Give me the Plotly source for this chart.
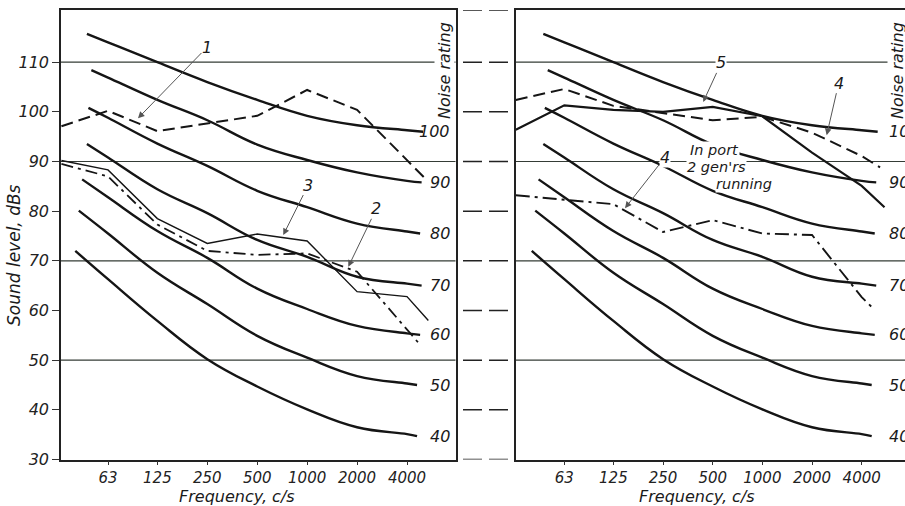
import math
import plotly.graph_objects as go

# ---------------- data ----------------
band_freqs = [63, 125, 250, 500, 1000, 2000, 4000]
band_labels = ["63", "125", "250", "500", "1000", "2000", "4000"]
grid_freqs = [125, 500, 2000]
level_ticks = [30, 40, 50, 60, 70, 80, 90, 100, 110]
grid_levels = [50, 70, 90, 110]
divider_levels = [30, 40, 50, 60, 70, 80, 90, 100, 110, 120.5]

# Noise-rating curves: first point, octave bands 63..4000, last point
nr_ratings = [100, 90, 80, 70, 60, 50, 40]
nr_start_freq = [47, 50, 48, 47, 44, 42, 40]
nr_end_freq = [5000, 4900, 4800, 4900, 4800, 4600, 4600]
nr_100 = [115.7, 114.0, 110.0, 106.0, 102.4, 99.2, 97.3, 96.3, 96.0]
nr_90 = [108.4, 106.9, 102.4, 98.3, 93.4, 90.3, 87.8, 86.1, 85.8]
nr_80 = [100.8, 98.8, 93.6, 89.1, 84.1, 80.8, 77.5, 75.9, 75.5]
nr_70 = [93.5, 90.8, 84.4, 79.6, 74.2, 70.8, 66.8, 65.4, 65.0]
nr_60 = [86.4, 82.8, 76.0, 70.6, 64.4, 60.3, 56.9, 55.4, 55.1]
nr_50 = [80.1, 75.5, 67.6, 61.3, 54.9, 50.5, 46.8, 45.3, 45.0]
nr_40 = [72.0, 66.3, 57.9, 50.2, 44.7, 40.1, 36.5, 35.1, 34.7]
nr_levels = [nr_100, nr_90, nr_80, nr_70, nr_60, nr_50, nr_40]

# measured spectra, left panel
c1_freqs = [33, 63, 125, 250, 500, 1000, 2000, 5250]
c1_levels = [97.1, 100.2, 96.1, 97.6, 99.2, 104.4, 100.4, 86.3]
c2_freqs = [33, 63, 125, 250, 500, 1000, 2000, 4800]
c2_levels = [89.5, 87.0, 77.3, 72.0, 71.2, 71.5, 67.8, 53.1]
c3_freqs = [33, 63, 125, 250, 500, 1000, 2000, 4000, 5380]
c3_levels = [90.2, 88.3, 78.5, 73.5, 75.4, 74.0, 63.8, 62.8, 58.0]

# measured spectra, right panel
c5_freqs = [32, 63, 125, 250, 500, 1000, 2000, 4000, 5500]
c5_levels = [96.4, 101.3, 100.4, 100.0, 101.0, 99.1, 91.8, 85.1, 80.8]
c4_freqs = [32, 63, 125, 250, 500, 1000, 2000, 4000, 5170]
c4_levels = [102.4, 104.6, 101.2, 99.8, 98.3, 99.0, 95.8, 91.1, 88.8]
c4p_freqs = [32, 63, 125, 250, 500, 1000, 2000, 4000, 4800]
c4p_levels = [83.2, 82.3, 81.4, 75.8, 78.2, 75.5, 75.2, 62.7, 60.1]

# callouts: (label, panel, head freq, head level, text dx px, text dy px)
callouts = [
    ("1", 1, 95.5, 98.7, 69, -71),
    ("3", 1, 718, 75.2, 25, -50),
    ("2", 1, 1771, 68.8, 28, -58),
    ("5", 2, 438, 102.0, 18, -39),
    ("4", 2, 2454, 95.3, 12, -52),
    ("4", 2, 147, 80.6, 40, -51),
]

# ---------------- style ----------------
W, H = 905, 506
INK = "#151515"
GRID = "#353c36"
FONT = "DejaVu Sans"

def px_x(p):
    return p / W

def px_y(p):
    return 1 - p / H

L_DOM = [px_x(61), px_x(455.5)]
R_DOM = [px_x(515.7), 1.0]
Y_DOM = [px_y(459.5), px_y(10)]
L_RANGE = [1.5159, 3.8945]
R_RANGE = [1.5047, 3.8646]
Y_RANGE = [30, 120.5]

fig = go.Figure()

def add_line(x, y, panel, width, dash="solid", spline=False):
    xa = "x" if panel == 1 else "x2"
    ya = "y" if panel == 1 else "y2"
    fig.add_trace(go.Scatter(
        x=x, y=y, mode="lines", xaxis=xa, yaxis=ya,
        line=dict(color=INK, width=width, dash=dash,
                  shape="spline" if spline else "linear", smoothing=1.2),
        hoverinfo="skip", showlegend=False))

for panel in (1, 2):
    for sf, ef, lv in zip(nr_start_freq, nr_end_freq, nr_levels):
        add_line([sf] + band_freqs + [ef], lv, panel, 2.4, spline=True)

add_line(c1_freqs, c1_levels, 1, 2.0, dash="12px,6px")
add_line(c2_freqs, c2_levels, 1, 1.8, dash="12px,5px,3px,5px")
add_line(c3_freqs, c3_levels, 1, 1.4)
add_line(c5_freqs, c5_levels, 2, 2.2)
add_line(c4_freqs, c4_levels, 2, 2.0, dash="12px,6px")
add_line(c4p_freqs, c4p_levels, 2, 1.9, dash="14px,5px,3px,5px")

ytickfont = dict(family=FONT, size=16, color="#222", style="italic")
xtickfont = dict(family=FONT, size=15, color="#222", style="italic")
xcommon = dict(type="log", tickvals=band_freqs, ticktext=band_labels,
               ticks="outside", ticklen=4, tickwidth=1.2, tickcolor="#333",
               showgrid=False, zeroline=False, showline=True, linecolor="#222",
               linewidth=1.6, mirror=True, tickfont=xtickfont, fixedrange=True)
fig.update_layout(
    width=W, height=H, margin=dict(l=0, r=0, t=0, b=0, autoexpand=False),
    paper_bgcolor="white", plot_bgcolor="white",
    xaxis=dict(domain=L_DOM, range=L_RANGE, anchor="y", **xcommon),
    xaxis2=dict(domain=R_DOM, range=R_RANGE, anchor="y2", **xcommon),
    yaxis=dict(domain=Y_DOM, range=Y_RANGE, anchor="x", tickvals=level_ticks,
               ticks="outside", ticklen=7, tickwidth=1.2, tickcolor="#333",
               showgrid=False, zeroline=False, showline=True, linecolor="#222",
               linewidth=1.6, mirror=True, tickfont=ytickfont, fixedrange=True),
    yaxis2=dict(domain=Y_DOM, range=Y_RANGE, anchor="x2", showticklabels=False,
                ticks="", showgrid=False, zeroline=False, showline=True,
                linecolor="#222", linewidth=1.6, mirror=False, fixedrange=True),
)

shapes = []
for xa, ya in (("x", "y"), ("x2", "y2")):
    for lv in grid_levels:
        shapes.append(dict(type="line", xref=xa + " domain", yref=ya, x0=0, x1=1,
                           y0=lv, y1=lv, line=dict(color=GRID, width=1.2), layer="below"))
    for f in grid_freqs:
        shapes.append(dict(type="line", xref=xa, yref=ya + " domain",
                           x0=math.log10(f), x1=math.log10(f), y0=0, y1=1,
                           line=dict(color=GRID, width=1.2), layer="below"))
for lv in divider_levels:
    shapes.append(dict(type="line", xref="paper", yref="y", x0=px_x(463), x1=px_x(510),
                       y0=lv, y1=lv, line=dict(color="#222", width=1.5, dash="19px,7px")))
fig.update_layout(shapes=shapes)

ann = []
lab_font = dict(family=FONT, size=16, color="#1a1a1a", style="italic")
note_font = dict(family=FONT, size=14.5, color="#1a1a1a", style="italic")
for rating, ef, lv in zip(nr_ratings, nr_end_freq, nr_levels):
    ann.append(dict(text=str(rating), xref="paper", yref="y", x=px_x(452), y=lv[-1],
                    xanchor="right", yanchor="middle", showarrow=False, font=lab_font))
    ann.append(dict(text=str(rating), xref="paper", yref="y2", x=px_x(887), y=lv[-1],
                    xanchor="left", yanchor="middle", showarrow=False, font=lab_font))

for lab, panel, f, lv, dx, dy in callouts:
    ann.append(dict(text=lab, xref="x" if panel == 1 else "x2",
                    yref="y" if panel == 1 else "y2",
                    x=math.log10(f), y=lv, ax=dx, ay=dy, showarrow=True,
                    arrowhead=2, arrowsize=1.3, arrowwidth=1, arrowcolor="#555",
                    font=lab_font, bgcolor="white", borderpad=0))

for xc in (445, 898):
    ann.append(dict(text="Noise rating", xref="paper", yref="paper", x=px_x(xc),
                    y=px_y(71), textangle=-90, showarrow=False, font=lab_font,
                    xanchor="center", yanchor="middle", bgcolor="white", borderpad=0))

for txt, xc, yc in (("In port", 714, 150), ("2 gen'rs", 716, 167), ("running", 744, 184)):
    ann.append(dict(text=txt, xref="paper", yref="paper", x=px_x(xc), y=px_y(yc),
                    xanchor="center", yanchor="middle",
                    showarrow=False, font=note_font, bgcolor="white", borderpad=0))

title_font = dict(family=FONT, size=16, color="#1a1a1a", style="italic")
ann.append(dict(text="Sound level, dBs", xref="paper", yref="paper", x=px_x(14),
                y=px_y(255), textangle=-90, showarrow=False,
                font=dict(family=FONT, size=17, color="#1a1a1a", style="italic"),
                xanchor="center", yanchor="middle"))
for xc in (237, 697):
    ann.append(dict(text="Frequency, c/s", xref="paper", yref="paper", x=px_x(xc),
                    y=px_y(496.5), showarrow=False, font=title_font,
                    xanchor="center", yanchor="middle"))
fig.update_layout(annotations=ann)

fig.write_html(
    "out.html",
    config={"displayModeBar": False},
    post_script=("document.documentElement.style.margin='0';"
                 "document.body.style.margin='0';"
                 "document.body.style.overflow='hidden';"),
)
